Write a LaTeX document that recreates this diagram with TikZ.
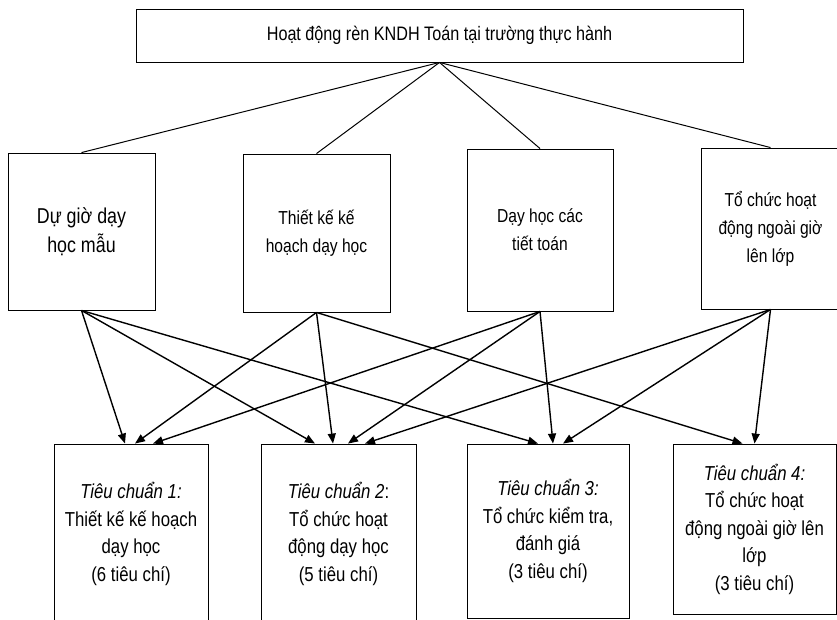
\documentclass[tikz,border=0pt]{standalone}
\usepackage{fontspec}
\setmainfont{Liberation Sans}[FakeStretch=0.83]
\usetikzlibrary{arrows.meta}

\begin{document}
\begin{tikzpicture}[x=1pt, y=-1pt,
  every node/.style={draw, line width=0.9pt, inner sep=0pt, align=center},
  mainbox/.style={font=\fontsize{19.5}{28}\selectfont},
  actbox/.style={font=\fontsize{18.8}{28}\selectfont},
  critbox/.style={font=\fontsize{20.2}{27.5}\selectfont},
  link/.style={line width=1pt},
  feed/.style={line width=1.4pt, -{Triangle[length=10pt,width=8pt]}},
]
\useasboundingbox (0,0) rectangle (837,619);
\clip (0,0) rectangle (837,619);

% --- top ---
\node[mainbox, minimum width=607, minimum height=53] (main) at (439.5, 35.5)
  {Hoạt động rèn KNDH Toán tại trường thực hành};

% --- activities ---
\node[actbox, minimum width=147, minimum height=157,
  font=\fontsize{21.5}{29}\selectfont] (obs) at (81.5, 231.5) {Dự giờ dạy\\học mẫu};
\node[actbox, minimum width=147, minimum height=158] (plan) at (316.5, 233)
  {Thiết kế kế\\hoạch dạy học};
\node[actbox, minimum width=146, minimum height=162] (teach) at (540, 230)
  {Dạy học các\\tiết toán};
\node[actbox, minimum width=139, minimum height=161] (extra) at (770.5, 228.5)
  {Tổ chức hoạt\\động ngoài giờ\\lên lớp};

% --- criteria ---
\node[critbox, minimum width=154, minimum height=180] (std1) at (131, 534)
  {\textit{Tiêu chuẩn 1:}\\Thiết kế kế hoạch\\dạy học\\(6 tiêu chí)};
\node[critbox, minimum width=155, minimum height=180] (std2) at (338.5, 534)
  {\textit{Tiêu chuẩn 2}:\\Tổ chức hoạt\\động dạy học\\(5 tiêu chí)};
\node[critbox, minimum width=162, minimum height=174] (std3) at (548, 531)
  {\textit{Tiêu chuẩn 3:}\\Tổ chức kiểm tra,\\đánh giá\\(3 tiêu chí)};
\node[critbox, minimum width=163, minimum height=170] (std4) at (754.5, 529)
  {\textit{Tiêu chuẩn 4:}\\Tổ chức hoạt\\động ngoài giờ lên\\lớp\\(3 tiêu chí)};

% top -> activities
\draw[link] (main.south) -- (obs.north);
\draw[link] (main.south) -- (plan.north);
\draw[link] (main.south) -- (teach.north);
\draw[link] (main.south) -- (extra.north);

% activities -> criteria
\draw[feed] (obs.south) -- ([xshift=-6]std1.north);
\draw[feed] (obs.south) -- ([xshift=-23.5]std2.north);
\draw[feed] (obs.south) -- ([xshift=-10]std3.north);

\draw[feed] (plan.south) -- ([xshift=4]std1.north);
\draw[feed] (plan.south) -- ([xshift=-5.5]std2.north);
\draw[feed] (plan.south) -- ([xshift=-12]std4.north);

\draw[feed] (teach.south) -- ([xshift=22]std1.north);
\draw[feed] (teach.south) -- ([xshift=9.5]std2.north);
\draw[feed] (teach.south) -- ([xshift=5]std3.north);

\draw[feed] (extra.south) -- ([xshift=26.5]std2.north);
\draw[feed] (extra.south) -- ([xshift=15]std3.north);
\draw[feed] (extra.south) -- (std4.north);

\end{tikzpicture}
\end{document}
